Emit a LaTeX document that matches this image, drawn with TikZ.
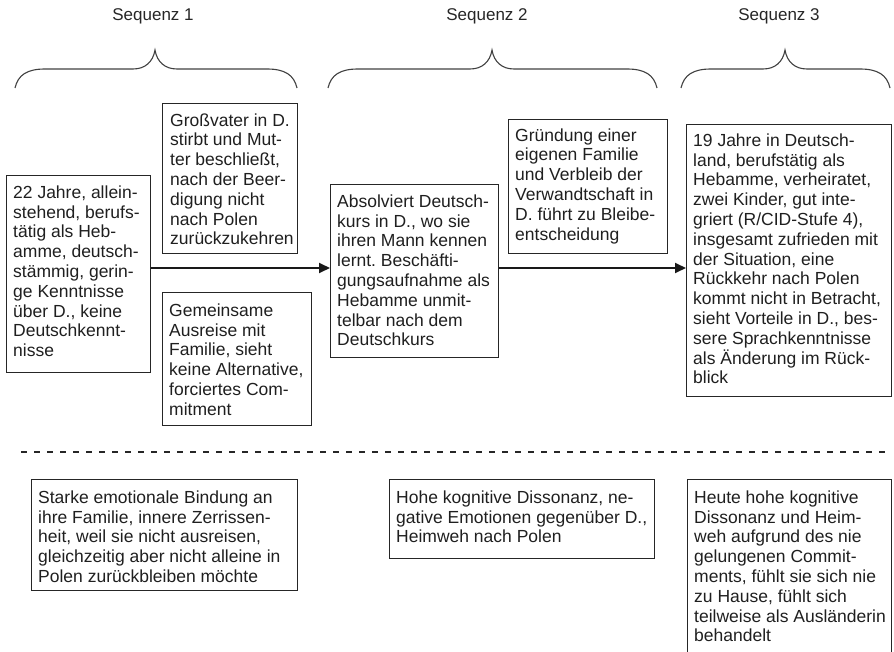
\documentclass[tikz,border=0pt]{standalone}
\usepackage{fontspec}
\setmainfont{Liberation Sans}
\usetikzlibrary{arrows.meta}
\frenchspacing

\tikzset{
  frame/.style={draw=black!85, line width=1pt, anchor=north west, inner sep=0pt, fill=none},
  blurb/.style={anchor=north west, inner sep=0pt, align=left, text=black!88,
    font=\fontsize{17.5}{19.8}\selectfont},
  heading/.style={anchor=base, inner sep=0pt, text=black!85,
    font=\fontsize{17}{20}\selectfont},
  brace/.style={draw=black!75, line width=1.1pt},
  flow/.style={draw=black!90, line width=1.8pt, -{Triangle[length=11pt,width=10pt]}},
  divider/.style={draw=black!85, line width=2pt, dash pattern=on 6pt off 7pt}
}

% first-line strut so every text block starts at the same baseline offset
\newcommand\firstline{\rule{0pt}{15pt}}

\begin{document}
\begin{tikzpicture}[x=1pt,y=-1pt]
\useasboundingbox (0,0) rectangle (894,652);
\clip (0,0) rectangle (894,652);

% sequence headings
\node[heading] (s1) at (153,21) {Sequenz 1};
\node[heading] (s2) at (487,21) {Sequenz 2};
\node[heading] (s3) at (779,21) {Sequenz 3};

% curly braces: start x, tip x, end x
\foreach \xa/\xm/\xb in {15/155/297, 328/492/657, 681/785/890}{
  \draw[brace] (\xa,88) .. controls (\xa+3,75) and (\xa+12,69) .. (\xa+30,69)
    -- (\xm-22,69) .. controls (\xm-10,69) and (\xm-2,62) .. (\xm,50)
    .. controls (\xm+2,62) and (\xm+10,69) .. (\xm+22,69)
    -- (\xb-30,69) .. controls (\xb-12,69) and (\xb-3,75) .. (\xb,88);
}

% upper boxes
\node[frame, minimum width=144, minimum height=197] (A) at (6,175) {};
\node[blurb] (At) at ([shift={(7,8)}]A.north west) {\firstline 22 Jahre, allein-\\stehend, berufs-\\tätig als Heb-\\amme, deutsch-\\stämmig, gerin-\\ge Kenntnisse\\über D., keine\\Deutschkennt-\\nisse};

\node[frame, minimum width=135, minimum height=150] (B) at (162,103) {};
\node[blurb] (Bt) at ([shift={(8,8)}]B.north west) {\firstline Großvater in D.\\stirbt und Mut-\\ter beschließt,\\nach der Beer-\\digung nicht\\nach Polen\\zurückzukehren};

\node[frame, minimum width=149, minimum height=133] (C) at (162,292) {};
\node[blurb] (Ct) at ([shift={(7,9)}]C.north west) {\firstline Gemeinsame\\Ausreise mit\\Familie, sieht\\keine Alternative,\\forciertes Com-\\mitment};

\node[frame, minimum width=168, minimum height=173] (D) at (330,184) {};
\node[blurb] (Dt) at ([shift={(7,8)}]D.north west) {\firstline Absolviert Deutsch-\\kurs in D., wo sie\\ihren Mann kennen\\lernt. Beschäfti-\\gungsaufnahme als\\Hebamme unmit-\\telbar nach dem\\Deutschkurs};

\node[frame, minimum width=159, minimum height=134] (E) at (508,119) {};
\node[blurb] (Et) at ([shift={(7,7)}]E.north west) {\firstline Gründung einer\\eigenen Familie\\und Verbleib der\\Verwandtschaft in\\D. führt zu Bleibe-\\entscheidung};

\node[frame, minimum width=205, minimum height=272] (F) at (686,124) {};
\node[blurb] (Ft) at ([shift={(7,7)}]F.north west) {\firstline 19 Jahre in Deutsch-\\land, berufstätig als\\Hebamme, verheiratet,\\zwei Kinder, gut inte-\\griert (R/CID-Stufe 4),\\insgesamt zufrieden mit\\der Situation, eine\\Rückkehr nach Polen\\kommt nicht in Betracht,\\sieht Vorteile in D., bes-\\sere Sprachkenntnisse\\als Änderung im Rück-\\blick};

% flow between the states
\coordinate (lvl) at (0,268);
\draw[flow] (A.east |- lvl) -- (D.west |- lvl);
\draw[flow] (D.east |- lvl) -- (F.west |- lvl);

% separator
\coordinate (dl) at (21,452);
\coordinate (dr) at (886,452);
\draw[divider] (dl) -- (dr);

% lower boxes
\node[frame, minimum width=266, minimum height=111] (G) at (31,479) {};
\node[blurb] (Gt) at ([shift={(7,9)}]G.north west) {\firstline Starke emotionale Bindung an\\ihre Familie, innere Zerrissen-\\heit, weil sie nicht ausreisen,\\gleichzeitig aber nicht alleine in\\Polen zurückbleiben möchte};

\node[frame, minimum width=265, minimum height=79] (H) at (389,479) {};
\node[blurb] (Ht) at ([shift={(7,9)}]H.north west) {\firstline Hohe kognitive Dissonanz, ne-\\gative Emotionen gegenüber D.,\\Heimweh nach Polen};

\node[frame, minimum width=204, minimum height=190] (I) at (687,479) {};
\node[blurb] (It) at ([shift={(7,9)}]I.north west) {\firstline Heute hohe kognitive\\Dissonanz und Heim-\\weh aufgrund des nie\\gelungenen Commit-\\ments, fühlt sie sich nie\\zu Hause, fühlt sich\\teilweise als Ausländerin\\behandelt};
\end{tikzpicture}
\end{document}
